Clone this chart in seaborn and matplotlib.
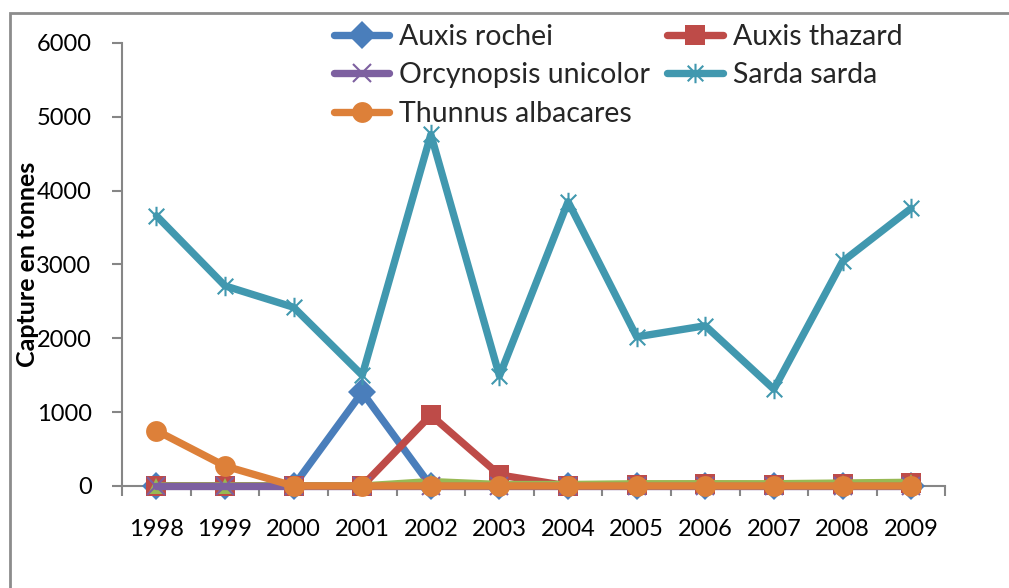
import numpy as np
import pandas as pd
import seaborn as sns
import matplotlib.pyplot as plt
from matplotlib.path import Path
from matplotlib.lines import Line2D
from matplotlib.patches import Rectangle

# Annual catches (tonnes) per species
years = ["1998", "1999", "2000", "2001", "2002", "2003",
         "2004", "2005", "2006", "2007", "2008", "2009"]
auxis_rochei = [0, 0, 0, 1270, 0, 0, 0, 0, 0, 0, 0, 0]
auxis_thazard = [0, 0, 0, 0, 960, 150, 0, 20, 25, 20, 30, 40]
other_tuna = [0, 0, 0, 0, 60, 20, 20, 30, 30, 30, 40, 50]
orcynopsis_unicolor = [0, 0, 0, 0, 0, 0, 0, 0, 0, 0, 0, 0]
sarda_sarda = [3660, 2710, 2420, 1500, 4760, 1490, 3850, 2020, 2170, 1310, 3040, 3760]
thunnus_albacares = [750, 270, 0, 0, 0, 0, 0, 0, 0, 0, 0, 0]

sns.set_theme(style="white")
plt.rcParams["font.family"] = ["Lato", "DejaVu Sans"]

fig = plt.figure(figsize=(10.09, 5.88), dpi=100)
ax = fig.add_axes([0.121, 0.1735, 0.816, 0.7535])

# Star marker: an "x" crossed by a vertical bar
star = Path([(-1, -1), (1, 1), (-1, 1), (1, -1), (0, -1.25), (0, 1.25)],
            [Path.MOVETO, Path.LINETO, Path.MOVETO, Path.LINETO,
             Path.MOVETO, Path.LINETO])

x = np.arange(len(years))
series = [
    ("Auxis rochei", auxis_rochei, "#4A7EBB", "D", 14, None),
    ("Auxis thazard", auxis_thazard, "#BE4B48", "s", 14, None),
    ("_other", other_tuna, "#98B954", "^", 11, None),
    ("Orcynopsis unicolor", orcynopsis_unicolor, "#7D60A0", "x", 13, 1.5),
    ("Sarda sarda", sarda_sarda, "#4198AF", star, 14, 1.5),
    ("Thunnus albacares", thunnus_albacares, "#DD8039", "o", 15, None),
]

handles = {}
for name, vals, col, mk, ms, mew in series:
    kw = dict(marker=mk, markersize=ms, markerfacecolor=col, markeredgecolor=col,
              markeredgewidth=0 if mew is None else mew)
    sns.lineplot(x=x, y=vals, ax=ax, color=col, linewidth=5.3, legend=False,
                 clip_on=False, **kw)
    handles[name] = Line2D([], [], color=col, linewidth=5.3, **kw)

ax.set_xlim(-0.5, len(years) - 0.5)
ax.set_ylim(0, 6000)
ax.set_yticks(np.arange(0, 6001, 1000))
ax.set_xticks(x)
ax.set_xticklabels(years)
ax.set_xticks(np.arange(-0.5, len(years), 1.0), minor=True)

for side in ("top", "right"):
    ax.spines[side].set_visible(False)
for side in ("left", "bottom"):
    ax.spines[side].set_color("#868686")
    ax.spines[side].set_linewidth(1.5)
    ax.spines[side].set_zorder(0.5)

ax.tick_params(axis="y", which="major", left=True, length=7, width=1.5,
               color="#868686", direction="out", labelsize=17, pad=15,
               labelcolor="black")
ax.tick_params(axis="x", which="major", bottom=False, length=0,
               labelsize=17, pad=24, labelcolor="black")
ax.tick_params(axis="x", which="minor", bottom=True, length=7, width=1.5,
               color="#868686", direction="out")

ax.set_ylabel("Capture en tonnes", fontsize=18, fontweight="bold",
              color="black")
ax.yaxis.set_label_coords(-0.101, 0.5)

order = ["Auxis rochei", "Orcynopsis unicolor", "Thunnus albacares",
         "Auxis thazard", "Sarda sarda"]
leg = fig.legend([handles[n] for n in order], order, ncol=2,
                 loc="upper left", bbox_to_anchor=(0.331, 0.96),
                 frameon=False, fontsize=20.5, handlelength=1.95,
                 handletextpad=0.35, columnspacing=0.6, labelspacing=0.45,
                 borderaxespad=0, borderpad=0)

# Chart-area border
fig.add_artist(Rectangle((10 / 1009, -0.05), 1.2, 1 - 13 / 588 + 0.05,
                         transform=fig.transFigure, fill=False,
                         edgecolor="#8C8C8C", linewidth=2, zorder=-1))

fig.savefig("out.png", dpi=100)
